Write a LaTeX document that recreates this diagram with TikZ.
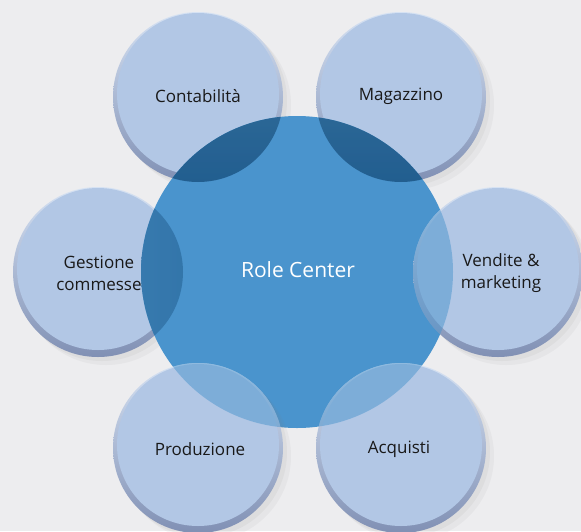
\documentclass[tikz,border=0pt]{standalone}
\usepackage{fontspec}
\setmainfont{Open Sans}
\usepackage{tikz}
\usetikzlibrary{shadows}
\definecolor{bggrey}{HTML}{EDEDEF}
\definecolor{satblue}{HTML}{B2C7E5}
\definecolor{rimdark}{HTML}{8090B4}
\definecolor{rimlight}{HTML}{D6E2F3}
\definecolor{rcblue}{HTML}{4A94CD}
\definecolor{lensblue}{HTML}{1B5585}
\tikzset{
  sat/.style={circle, minimum size=170pt, inner sep=0pt,
    top color=rimlight, bottom color=rimdark,
    drop shadow={opacity=0.07, shadow xshift=8pt, shadow yshift=-8pt},
    drop shadow={opacity=0.08, shadow xshift=4pt, shadow yshift=-4pt},
    path picture={\fill[satblue] ([yshift=3pt]path picture bounding box.center) circle (81pt);}},
  satlabel/.style={align=center, text=black!90, font=\fontsize{17}{22}\selectfont}
}
\def\satnode{\node[sat]}
\def\lensdark{\shade[top color=rcblue!75!black, bottom color=lensblue, opacity=0.85]}
\def\lenslight{\fill[rcblue, opacity=0.5]}

\begin{document}
\begin{tikzpicture}[x=1pt,y=-1pt]
\fill[bggrey] (0,0) rectangle (581,531);
\useasboundingbox (0,0) rectangle (581,531);
% satellites behind the centre
\satnode (cont) at (198,97) {};
\satnode (mag) at (401,97) {};
\satnode (gest) at (98,272) {};
% centre
\node[circle, minimum size=312pt, inner sep=0pt, fill=rcblue] (rc) at (297,272) {};
\begin{scope}
  \clip (rc.center) circle (156pt);
  \lensdark (cont.center) circle (85pt);
  \lensdark (mag.center) circle (85pt);
  \shade[left color=rcblue!85!black, right color=lensblue!80!rcblue, opacity=0.6] (gest.center) circle (85pt);
\end{scope}
% satellites in front of the centre
\satnode (vend) at (498,272) {};
\satnode (prod) at (198,448) {};
\satnode (acq) at (401,448) {};
\begin{scope}
  \clip (vend.center) circle (85pt);
  \lenslight (rc.center) circle (156pt);
\end{scope}
\begin{scope}
  \clip (prod.center) circle (85pt);
  \lenslight (rc.center) circle (156pt);
\end{scope}
\begin{scope}
  \clip (acq.center) circle (85pt);
  \lenslight (rc.center) circle (156pt);
\end{scope}
% labels
\node[text=white, font=\fontsize{21}{25}\selectfont] (rclbl) at (298,270) {Role Center};
\node[satlabel] (contlbl) at (198,96) {Contabilità};
\node[satlabel] (maglbl) at (401,96) {Magazzino};
\node[satlabel] (gestlbl) at (99,273) {Gestione\\commesse};
\node[satlabel] (vendlbl) at (501,273) {Vendite \&\\marketing};
\node[satlabel] (prodlbl) at (200,449) {Produzione};
\node[satlabel] (acqlbl) at (399,449) {Acquisti};
\end{tikzpicture}
\end{document}
